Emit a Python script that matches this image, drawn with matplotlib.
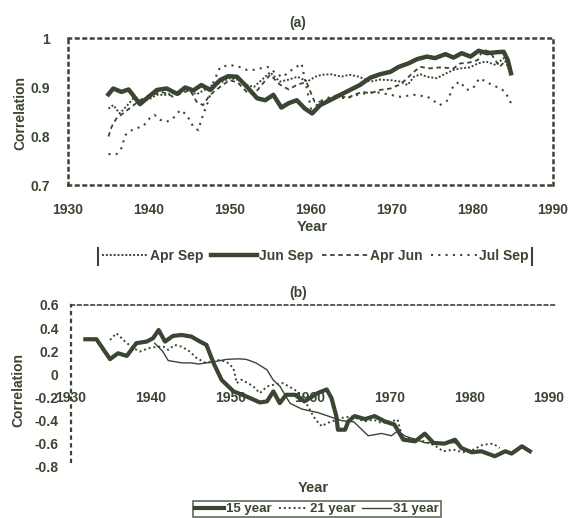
import matplotlib.pyplot as plt
from matplotlib.lines import Line2D

plt.rcParams['font.family'] = ['Liberation Sans', 'DejaVu Sans']
plt.rcParams['font.weight'] = 'bold'
plt.rcParams['font.size'] = 10

INK = '#3a4631'

# ---- panel (a): running correlation of seasonal windows ----
jun_sep_years = [1935, 1935.6, 1936.6, 1937.5, 1938.9, 1939.9, 1941, 1942.2, 1943.5, 1944.5,
                 1945.5, 1946.5, 1947.6, 1948.8, 1949.8, 1950.9, 1952.1, 1953.4, 1954.4, 1955.4,
                 1956.4, 1957.3, 1958.3, 1959.3, 1960.2, 1961.2, 1962.4, 1963.7, 1964.9, 1966.1,
                 1967.4, 1968.6, 1969.9, 1970.9, 1972.1, 1973.2, 1974.4, 1975.4, 1976.7, 1977.7,
                 1978.7, 1979.8, 1980.8, 1981.8, 1983.1, 1983.9, 1984.4, 1984.8]
jun_sep = [0.885, 0.897, 0.89, 0.895, 0.865, 0.879, 0.894, 0.897, 0.886, 0.899,
           0.893, 0.904, 0.894, 0.914, 0.922, 0.921, 0.901, 0.877, 0.873, 0.884,
           0.858, 0.867, 0.873, 0.856, 0.846, 0.863, 0.873, 0.884, 0.894, 0.904,
           0.919, 0.926, 0.931, 0.941, 0.948, 0.957, 0.962, 0.959, 0.967, 0.96,
           0.969, 0.962, 0.974, 0.969, 0.971, 0.972, 0.955, 0.928]

apr_sep_years = [1935, 1935.6, 1936.4, 1937.2, 1938.1, 1939, 1940, 1941, 1942.2, 1943.5,
                 1944.7, 1945.9, 1947, 1948, 1949, 1950, 1951, 1952, 1953, 1954,
                 1955, 1956.2, 1957.3, 1958.4, 1959.6, 1960.6, 1961.4, 1962.6, 1963.8, 1964.8,
                 1966, 1967.4, 1968.6, 1969.9, 1971.1, 1972, 1972.8, 1973.6, 1974.4, 1975.6,
                 1976.8, 1977.7, 1978.5, 1979.7, 1980.7, 1981.7, 1982.9, 1983.9, 1984.6]
apr_sep = [0.856, 0.863, 0.846, 0.86, 0.877, 0.87, 0.875, 0.884, 0.884, 0.89,
           0.895, 0.885, 0.895, 0.905, 0.91, 0.918, 0.915, 0.905, 0.9, 0.915,
           0.93, 0.911, 0.915, 0.921, 0.911, 0.921, 0.925, 0.926, 0.921, 0.925,
           0.921, 0.911, 0.915, 0.914, 0.911, 0.904, 0.921, 0.926, 0.921, 0.918,
           0.928, 0.935, 0.938, 0.94, 0.948, 0.952, 0.945, 0.959, 0.935]

apr_jun_years = [1935, 1935.4, 1936, 1936.8, 1937.9, 1938.9, 1939.7, 1940.5, 1941.4, 1942.2,
                 1943, 1944, 1945.1, 1945.9, 1946.7, 1947.4, 1948, 1948.8, 1950, 1951,
                 1952.1, 1953, 1954, 1955, 1956.2, 1957.3, 1958.4, 1959.5, 1960.5, 1961.5,
                 1962.5, 1963.5, 1964.5, 1965.5, 1966.5, 1967.4, 1968.6, 1969.9, 1970.9, 1971.8,
                 1972.7, 1973.6, 1974.8, 1976, 1977.7, 1978.5, 1979.7, 1980.7, 1981.3, 1982.2,
                 1983.4, 1984.2, 1984.8]
apr_jun = [0.799, 0.819, 0.836, 0.846, 0.86, 0.873, 0.88, 0.884, 0.89, 0.887,
           0.88, 0.887, 0.894, 0.87, 0.863, 0.88, 0.89, 0.9, 0.914, 0.909,
           0.89, 0.885, 0.905, 0.925, 0.905, 0.895, 0.905, 0.91, 0.87, 0.87,
           0.878, 0.885, 0.877, 0.885, 0.89, 0.887, 0.894, 0.897, 0.904, 0.915,
           0.93, 0.941, 0.938, 0.94, 0.938, 0.948, 0.95, 0.955, 0.976, 0.972,
           0.941, 0.955, 0.94]

jul_sep_years = [1935, 1936, 1936.6, 1937.1, 1937.9, 1938.5, 1939.3, 1940.1, 1940.7, 1941.4,
                 1942.2, 1943, 1943.9, 1944.7, 1945.5, 1946.1, 1946.7, 1947.4, 1948, 1948.8,
                 1950, 1951.2, 1952.1, 1953, 1953.8, 1954.7, 1955.5, 1956.5, 1957.7, 1958.9,
                 1959.5, 1960.2, 1961, 1962.5, 1964.5, 1966, 1968, 1969.9, 1971.1, 1972.8,
                 1974.5, 1976, 1977, 1977.7, 1978.5, 1979.3, 1980.1, 1980.9, 1981.7, 1982.5,
                 1983.5, 1984.1, 1984.8]
jul_sep = [0.763, 0.763, 0.775, 0.802, 0.812, 0.816, 0.82, 0.836, 0.843, 0.833,
           0.829, 0.836, 0.853, 0.843, 0.819, 0.812, 0.843, 0.873, 0.91, 0.94,
           0.945, 0.941, 0.935, 0.935, 0.938, 0.941, 0.931, 0.92, 0.935, 0.948,
           0.9, 0.846, 0.87, 0.88, 0.877, 0.885, 0.89, 0.884, 0.88, 0.884,
           0.88, 0.863, 0.873, 0.904, 0.911, 0.894, 0.897, 0.918, 0.911, 0.904,
           0.897, 0.89, 0.867]

# ---- panel (b): running correlation, different window lengths ----
w15_years = [1931.8, 1933.2, 1934.9, 1935.9, 1937, 1938.2, 1939.5, 1940.3, 1941, 1941.8,
             1942.8, 1943.9, 1945.1, 1946.2, 1947, 1947.9, 1948.9, 1950.4, 1952, 1953.7,
             1954.6, 1955.4, 1956.2, 1957, 1958.1, 1959.3, 1961, 1962.1, 1962.7, 1963.3,
             1963.5, 1964.4, 1964.8, 1965.6, 1966.9, 1968.1, 1969.4, 1970.6, 1971.7, 1973.2,
             1974.4, 1975.5, 1976.9, 1978.2, 1979, 1980.3, 1981.5, 1983.2, 1984.5, 1985.3,
             1986.6, 1987.6]
w15 = [0.304, 0.304, 0.132, 0.183, 0.16, 0.27, 0.284, 0.313, 0.384, 0.284,
       0.333, 0.341, 0.327, 0.284, 0.255, 0.097, -0.047, -0.147, -0.19, -0.242,
       -0.233, -0.147, -0.248, -0.176, -0.176, -0.233, -0.16, -0.13, -0.205, -0.36,
       -0.478, -0.478, -0.406, -0.36, -0.386, -0.36, -0.406, -0.434, -0.564, -0.578,
       -0.512, -0.592, -0.598, -0.564, -0.636, -0.673, -0.664, -0.707, -0.664, -0.684,
       -0.621, -0.664]

w21_years = [1934.9, 1935.7, 1936.8, 1937.8, 1938.7, 1939.7, 1940.8, 1941.6, 1942.2, 1943,
             1943.9, 1944.9, 1945.8, 1947, 1948.3, 1949.5, 1950.4, 1950.8, 1951.4, 1952.2,
             1952.9, 1953.7, 1954.6, 1955.4, 1956.6, 1958.1, 1959.3, 1960.2, 1960.7, 1961.5,
             1962.1, 1962.8, 1963.8, 1965.3, 1966.8, 1968, 1969, 1970.2, 1971, 1971.6,
             1973, 1974.3, 1975.7, 1976.7, 1978, 1979.2, 1980.5, 1981.7, 1983, 1983.8]
w21 = [0.298, 0.356, 0.284, 0.226, 0.198, 0.226, 0.24, 0.24, 0.212, 0.255,
       0.24, 0.198, 0.14, 0.097, 0.126, 0.111, 0.054, -0.075, -0.046, -0.075,
       -0.104, -0.162, -0.104, -0.09, -0.075, -0.133, -0.219, -0.334, -0.391, -0.449,
       -0.42, -0.406, -0.377, -0.363, -0.406, -0.391, -0.42, -0.406, -0.391, -0.549,
       -0.558, -0.578, -0.616, -0.664, -0.65, -0.673, -0.65, -0.607, -0.598, -0.636]

w31_years = [1940.5, 1941.5, 1942.2, 1943.9, 1945, 1946, 1947, 1948, 1949.5, 1951,
             1952, 1953.2, 1954.6, 1955.4, 1956.2, 1957.5, 1959, 1961, 1962.7, 1964,
             1965.5, 1967.3, 1969, 1970.2, 1971, 1972, 1973.2, 1974.4, 1976.5, 1978.2,
             1979, 1980.3]
w31 = [0.27, 0.2, 0.12, 0.1, 0.1, 0.09, 0.1, 0.11, 0.13, 0.135,
       0.13, 0.1, 0.04, -0.05, -0.1, -0.25, -0.3, -0.33, -0.37, -0.4,
       -0.41, -0.53, -0.51, -0.53, -0.49, -0.535, -0.56, -0.59, -0.59, -0.59,
       -0.64, -0.66]

xticks = [1930, 1940, 1950, 1960, 1970, 1980, 1990]
yticks_a = [0.7, 0.8, 0.9, 1.0]
ylabels_a = ['0.7', '0.8', '0.9', '1']
yticks_b = [0.6, 0.4, 0.2, 0, -0.2, -0.4, -0.6, -0.8]
ylabels_b = ['0.6', '0.4', '0.2', '0', '-0.2', '-0.4', '-0.6', '-0.8']

W, H = 570, 518
fig = plt.figure(figsize=(W / 100, H / 100), dpi=100)


def px(x0, y0, x1, y1):
    # pixel box (top-left origin) -> figure fraction rect
    return [x0 / W, 1 - y1 / H, (x1 - x0) / W, (y1 - y0) / H]


# ---------------- panel (a) ----------------
ax = fig.add_axes(px(68, 38, 553, 185))
ax.plot(apr_sep_years, apr_sep, color=INK, lw=1.4, ls=(0, (1, 1)), label='Apr Sep')
ax.plot(jun_sep_years, jun_sep, color=INK, lw=3.2, solid_joinstyle='round', label='Jun Sep')
ax.plot(apr_jun_years, apr_jun, color=INK, lw=1.3, ls=(0, (2.5, 2)), label='Apr Jun')
ax.plot(jul_sep_years, jul_sep, color=INK, lw=1.5, ls=(0, (1, 2.5)), label='Jul Sep')
ax.set_xlim(1930, 1990)
ax.set_ylim(0.7, 1.0)
ax.set_xticks(xticks)
ax.set_yticks(yticks_a)
ax.set_yticklabels(ylabels_a)
ax.tick_params(length=0, pad=13, colors=INK)
for s in ax.spines.values():
    s.set_linestyle((0, (1, 2)))
    s.set_linewidth(1.8)
    s.set_color(INK)

fig.text(298 / W, 1 - 23 / H, '(a)', ha='center', va='center', color=INK)
fig.text(312 / W, 1 - 227 / H, 'Year', ha='center', va='center', color=INK, fontsize=10.5)
fig.text(20 / W, 1 - 113 / H, 'Correlation', ha='center', va='center', rotation=90, color=INK)

leg = ax.legend(loc='center', bbox_to_anchor=(315 / W, 1 - 256 / H), bbox_transform=fig.transFigure,
                ncol=4, frameon=False, handlelength=3.3, handletextpad=0.15, columnspacing=0.6,
                borderpad=0.2, fontsize=10)
for t in leg.get_texts():
    t.set_color(INK)
for xb in (98, 532):
    fig.add_artist(Line2D([xb / W, xb / W], [1 - 248 / H, 1 - 265 / H], color=INK, lw=1.5))

# ---------------- panel (b) ----------------
bx = fig.add_axes(px(71, 305, 555, 467))
bx.plot(w15_years, w15, color=INK, lw=3.0, solid_joinstyle='round', label='15 year')
bx.plot(w21_years, w21, color=INK, lw=1.4, ls=(0, (1, 1.5)), label='21 year')
bx.plot(w31_years, w31, color=INK, lw=1.0, label='31 year')
bx.set_xlim(1930, 1990.75)
bx.set_ylim(-0.8, 0.6)
bx.set_xticks(xticks)
bx.set_yticks(yticks_b)
bx.set_yticklabels(ylabels_b)
bx.tick_params(length=0, colors=INK)
bx.tick_params(axis='x', pad=12)
bx.tick_params(axis='y', pad=9)
bx.spines['right'].set_visible(False)
bx.spines['bottom'].set_position(('data', 0))
bx.spines['bottom'].set_color('none')
bx.spines['top'].set_linestyle((0, (2, 2)))
bx.spines['top'].set_linewidth(1.2)
bx.spines['top'].set_color(INK)
bx.spines['left'].set_linestyle((0, (1, 2.5)))
bx.spines['left'].set_linewidth(1.6)
bx.spines['left'].set_color(INK)
bx.spines['left'].set_bounds(-0.76, 0.6)

fig.text(298 / W, 1 - 293 / H, '(b)', ha='center', va='center', color=INK)
fig.text(313 / W, 1 - 488 / H, 'Year', ha='center', va='center', color=INK, fontsize=10.5)
fig.text(18 / W, 1 - 390 / H, 'Correlation', ha='center', va='center', rotation=90, color=INK)

leg2 = bx.legend(loc='center', bbox_to_anchor=(317 / W, 1 - 509 / H), bbox_transform=fig.transFigure,
                 ncol=3, frameon=True, fancybox=False, handlelength=2.2, handletextpad=0.15,
                 columnspacing=0.5, borderpad=0.15, fontsize=9.5)
leg2.get_frame().set_edgecolor(INK)
leg2.get_frame().set_linewidth(1.2)
for t in leg2.get_texts():
    t.set_color(INK)

fig.savefig('out.png', dpi=100, facecolor='white')
